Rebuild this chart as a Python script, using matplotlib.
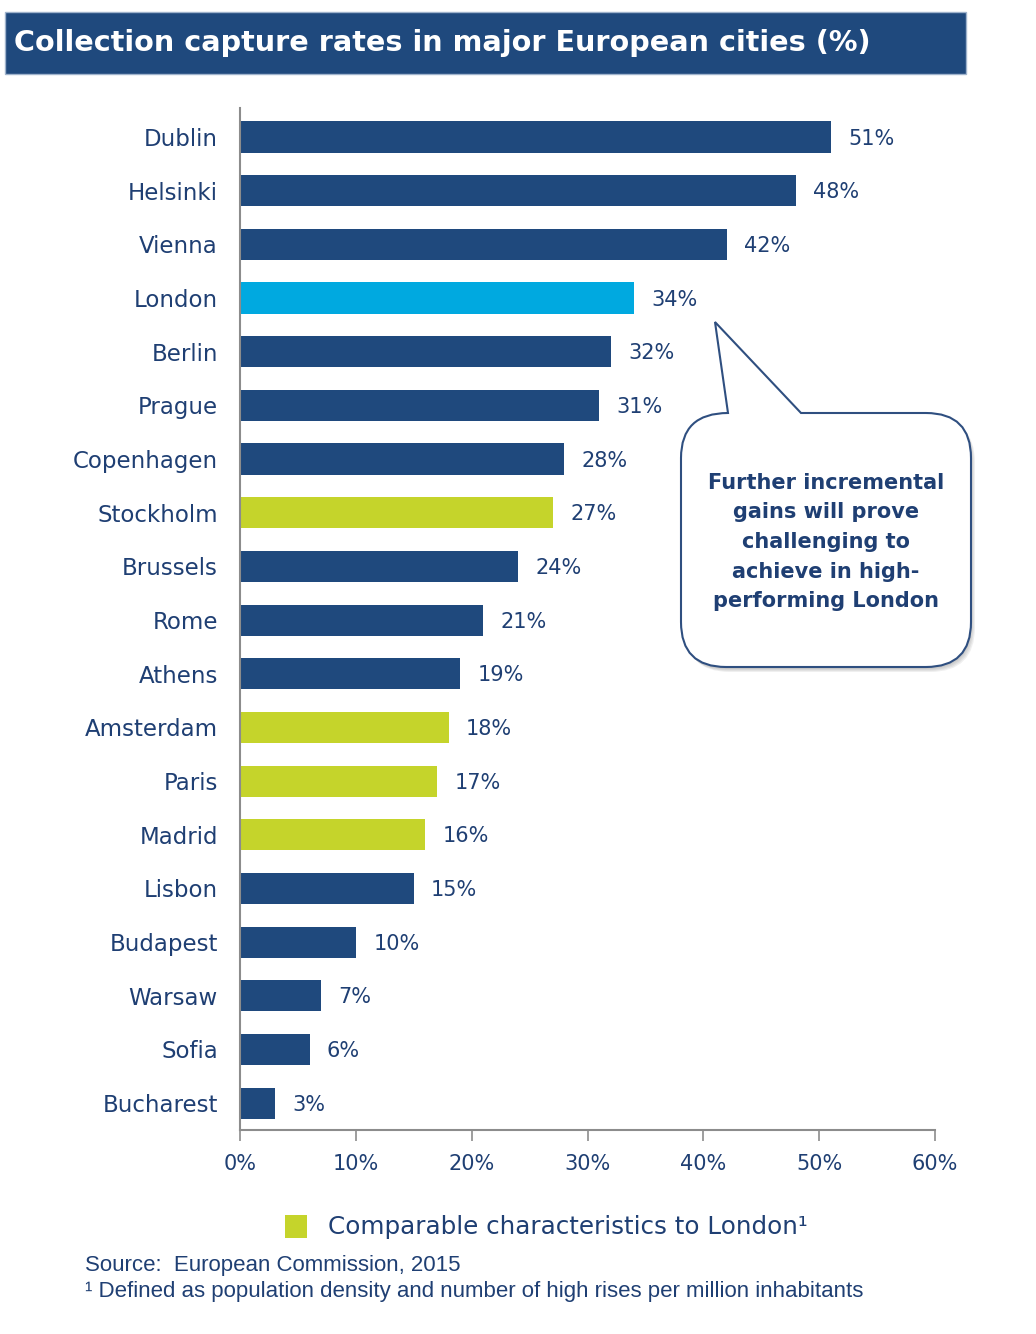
import numpy as np
import matplotlib.pyplot as plt
from matplotlib.path import Path
from matplotlib.patches import PathPatch, Rectangle
from matplotlib.transforms import Affine2D

cities = ['Dublin', 'Helsinki', 'Vienna', 'London', 'Berlin', 'Prague', 'Copenhagen',
          'Stockholm', 'Brussels', 'Rome', 'Athens', 'Amsterdam', 'Paris', 'Madrid',
          'Lisbon', 'Budapest', 'Warsaw', 'Sofia', 'Bucharest']
rates = [51, 48, 42, 34, 32, 31, 28, 27, 24, 21, 19, 18, 17, 16, 15, 10, 7, 6, 3]
comparable = ['Stockholm', 'Amsterdam', 'Paris', 'Madrid']
x_ticks = [0, 10, 20, 30, 40, 50, 60]

navy = '#1F497D'
sky = '#00A9E0'
lime = '#C5D42B'
text_col = '#1F3F73'
grey = '#8C8C8C'

plt.rcParams['font.family'] = ['DejaVu Sans']

W, H = 1036, 1334
fig = plt.figure(figsize=(W / 100, H / 100), dpi=100)
# pixel coordinates (origin top-left) for the decorations
px = Affine2D().scale(1 / W, -1 / H).translate(0, 1) + fig.transFigure

# title banner
fig.patches.append(Rectangle((5, 12), 961, 62, transform=px, facecolor=navy,
                             edgecolor='#9FB3CC', linewidth=1))
fig.text(14 / W, 1 - 43 / H, 'Collection capture rates in major European cities (%)',
         color='white', fontsize=20.6, fontweight='bold', va='center', ha='left')

ax = fig.add_axes([240 / W, 1 - 1130 / H, 695 / W, 1022 / H])
pos = np.arange(len(cities))
colors = [sky if c == 'London' else lime if c in comparable else navy for c in cities]
ax.barh(pos, rates, height=0.58, color=colors, zorder=2)
for p, v in zip(pos, rates):
    ax.text(v + 1.5, p + 0.03, f'{v}%', va='center', ha='left', fontsize=15, color=text_col)

ax.set_xlim(0, 60)
ax.set_ylim(18.5, -0.54)
ax.set_yticks(pos)
ax.set_yticklabels(cities, fontsize=16.5, color=text_col)
ax.tick_params(axis='y', length=0, pad=16)
ax.set_xticks(x_ticks)
ax.set_xticklabels([f'{t}%' for t in x_ticks], fontsize=15, color=text_col)
ax.tick_params(axis='x', direction='out', length=8, width=1.2, color=grey, pad=9)
for side in ['top', 'right']:
    ax.spines[side].set_visible(False)
for side in ['left', 'bottom']:
    ax.spines[side].set_color(grey)
    ax.spines[side].set_linewidth(1.5)

# legend
fig.patches.append(Rectangle((285, 1215), 22, 23, transform=px, facecolor=lime, edgecolor='none'))
fig.text(328 / W, 1 - 1227 / H, 'Comparable characteristics to London¹',
         fontsize=17.7, color=text_col, va='center', ha='left')

fig.text(85 / W, 1 - 1265 / H, 'Source:  European Commission, 2015',
         family='Liberation Sans', fontsize=16, color=text_col, va='center')
fig.text(85 / W, 1 - 1292 / H,
         '¹ Defined as population density and number of high rises per million inhabitants',
         family='Liberation Sans', fontsize=16, color=text_col, va='center')


# speech bubble pointing at the London bar
def bubble(dx, dy):
    L, R, T, B, r = 681 + dx, 971 + dx, 413 + dy, 667 + dy, 45
    tip = (715 + dx, 322 + dy)
    verts = [(728 + dx, T), tip, (801 + dx, T), (R - r, T),
             (R, T), (R, T + r), (R, B - r),
             (R, B), (R - r, B), (L + r, B),
             (L, B), (L, B - r), (L, T + r),
             (L, T), (L + r + 2, T), (728 + dx, T)]
    codes = [Path.MOVETO, Path.LINETO, Path.LINETO, Path.LINETO,
             Path.CURVE3, Path.CURVE3, Path.LINETO,
             Path.CURVE3, Path.CURVE3, Path.LINETO,
             Path.CURVE3, Path.CURVE3, Path.LINETO,
             Path.CURVE3, Path.CURVE3, Path.CLOSEPOLY]
    return Path(verts, codes)


for k in range(4, 0, -1):
    fig.patches.append(PathPatch(bubble(k, k + 1), transform=px, facecolor='#7F7F7F',
                                 edgecolor='none', alpha=0.12))
fig.patches.append(PathPatch(bubble(0, 0), transform=px, facecolor='white',
                             edgecolor='#2F4F80', linewidth=1.5))
fig.text(826 / W, 1 - 542 / H,
         'Further incremental\ngains will prove\nchallenging to\nachieve in high-\nperforming London',
         fontsize=15, fontweight='bold', color=text_col, ha='center', va='center',
         linespacing=1.6)

fig.savefig('out.png', dpi=100)
